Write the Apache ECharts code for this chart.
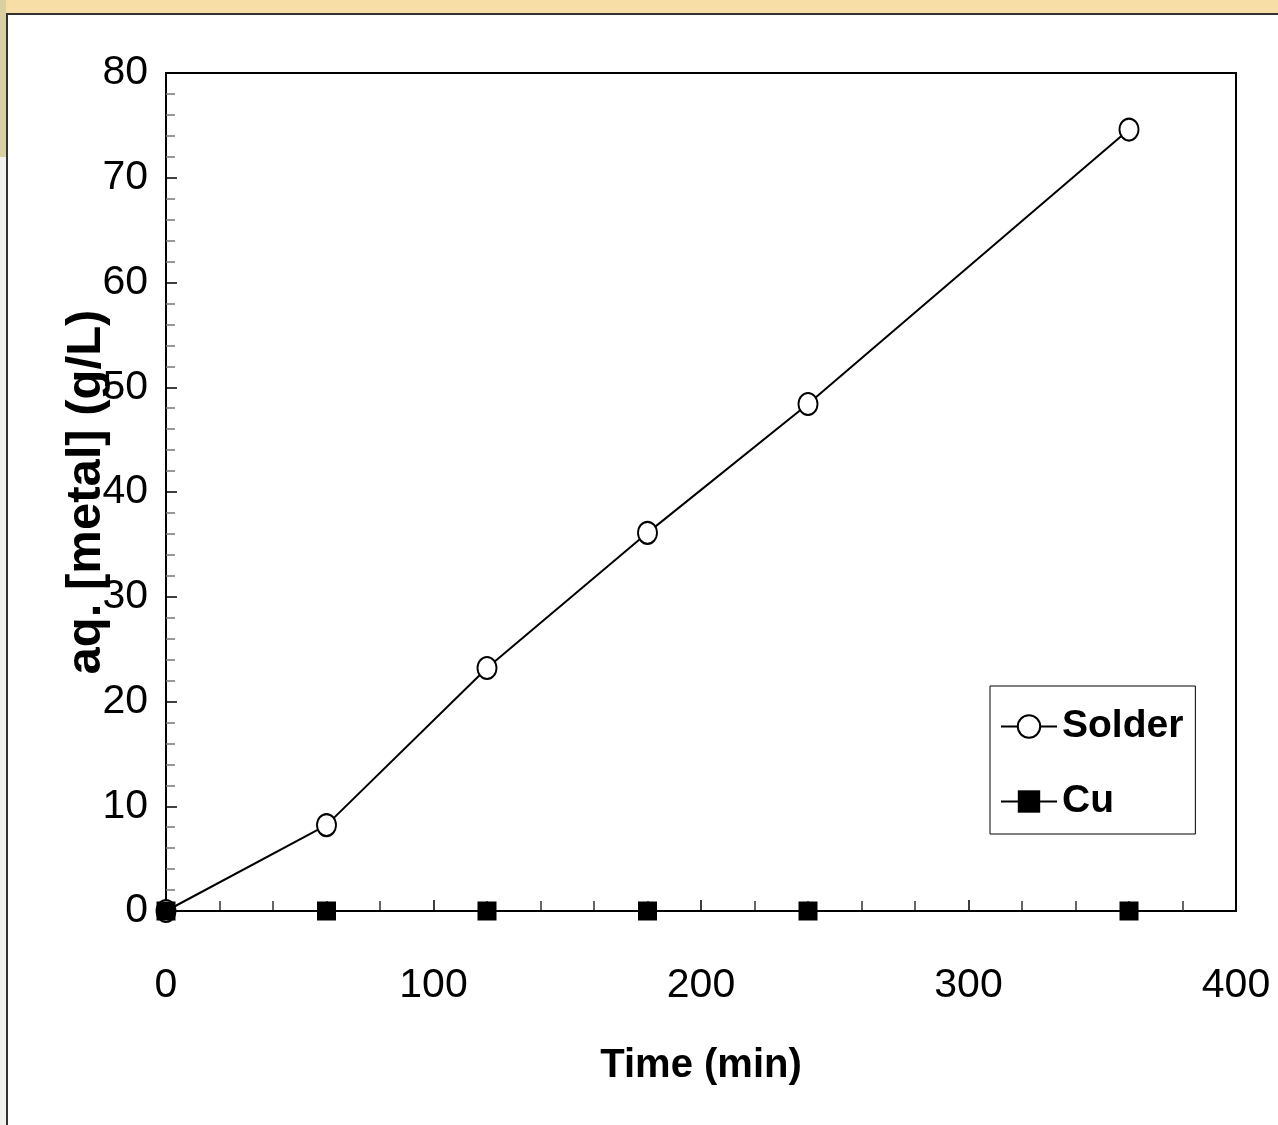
<!DOCTYPE html>
<html>
<head>
<meta charset="utf-8">
<script src="https://cdn.jsdelivr.net/npm/echarts@6/dist/echarts.min.js"></script>
<style>
  html, body { margin: 0; padding: 0; background: #ffffff; }
  #main { width: 1278px; height: 1125px; }
</style>
</head>
<body>
<div id="main"></div>
<script>
// 数据
var timeMin = [0, 60, 120, 180, 240, 360];
var solderVals = [0, 8.2, 23.2, 36.1, 48.4, 74.6];
var cuVals = [0, 0, 0, 0, 0, 0];
var seriesNames = ['Solder', 'Cu'];

var numFont = '"Liberation Sans", Arial, sans-serif';

function toPairs(xs, ys) {
    var out = [];
    for (var i = 0; i < xs.length; i++) out.push([xs[i], ys[i]]);
    return out;
}

var chart = echarts.init(document.getElementById('main'));

var option = {
    backgroundColor: '#ffffff',
    animation: false,
    // 背景：上方/左侧的幻灯片底纹 + 面板边框
    graphic: [
        { type: 'rect', shape: { x: 0, y: 0, width: 1278, height: 13 }, style: { fill: '#f7dea6' }, z: -10 },
        { type: 'rect', shape: { x: 0, y: 0, width: 6, height: 157 }, style: { fill: '#d8d0a0' }, z: -10 },
        { type: 'rect', shape: { x: 0, y: 157, width: 6, height: 968 }, style: { fill: '#f2f1ee' }, z: -10 },
        { type: 'polyline', shape: { points: [[7, 1125], [7, 14], [1278, 14]] }, style: { stroke: '#333333', lineWidth: 2, fill: null }, z: -5 }
    ],
    grid: {
        left: 166, top: 73, width: 1070, height: 838,
        show: true, borderColor: '#000000', borderWidth: 2, backgroundColor: 'transparent'
    },
    legend: {
        orient: 'vertical',
        left: 990, top: 686,
        width: 203,
        data: seriesNames,
        backgroundColor: '#ffffff',
        borderColor: '#000000', borderWidth: 1,
        padding: [21, 12, 13, 10],
        itemGap: 36,
        itemWidth: 56, itemHeight: 28,
        textStyle: { fontFamily: numFont, fontSize: 39, fontWeight: 'bold', color: '#000000' }
    },
    xAxis: {
        type: 'value',
        min: 0, max: 400, interval: 100,
        name: 'Time (min)',
        nameLocation: 'middle',
        nameGap: 135,
        nameTextStyle: { fontFamily: numFont, fontSize: 40, fontWeight: 'bold', color: '#000000' },
        axisLine: { show: true, onZero: false, lineStyle: { color: '#000000', width: 2 } },
        axisTick: { show: true, inside: true, length: 11, lineStyle: { color: '#000000', width: 1.5 } },
        minorTick: { show: true, splitNumber: 5, length: 10, lineStyle: { color: '#333333', width: 1.5 } },
        axisLabel: { margin: 54, fontFamily: numFont, fontSize: 41, color: '#000000' },
        splitLine: { show: false }
    },
    yAxis: {
        type: 'value',
        min: 0, max: 80, interval: 10,
        name: 'aq. [metal] (g/L)',
        nameLocation: 'middle',
        nameGap: 55,
        nameMoveOverlap: false,
        nameRotate: 90,
        nameTextStyle: { fontFamily: numFont, fontSize: 49, fontWeight: 'bold', color: '#000000' },
        axisLine: { show: true, onZero: false, lineStyle: { color: '#000000', width: 2 } },
        axisTick: { show: true, inside: true, length: 11, lineStyle: { color: '#000000', width: 1.5 } },
        minorTick: { show: true, splitNumber: 5, length: 9, lineStyle: { color: '#777777', width: 1.5 } },
        axisLabel: { margin: 18, fontFamily: numFont, fontSize: 41, color: '#000000' },
        splitLine: { show: false }
    },
    series: [
        {
            name: seriesNames[0],
            type: 'line',
            data: toPairs(timeMin, solderVals),
            symbol: 'circle',
            symbolSize: [19, 22],
            showAllSymbol: true,
            clip: false,
            lineStyle: { color: '#000000', width: 2 },
            itemStyle: { color: '#ffffff', borderColor: '#000000', borderWidth: 2 },
            z: 3
        },
        {
            name: seriesNames[1],
            type: 'line',
            data: toPairs(timeMin, cuVals),
            symbol: 'rect',
            symbolSize: 19,
            showAllSymbol: true,
            clip: false,
            lineStyle: { color: '#000000', width: 2 },
            itemStyle: { color: '#000000', borderColor: '#000000', borderWidth: 0 },
            z: 4
        }
    ]
};

chart.setOption(option);
</script>
</body>
</html>
